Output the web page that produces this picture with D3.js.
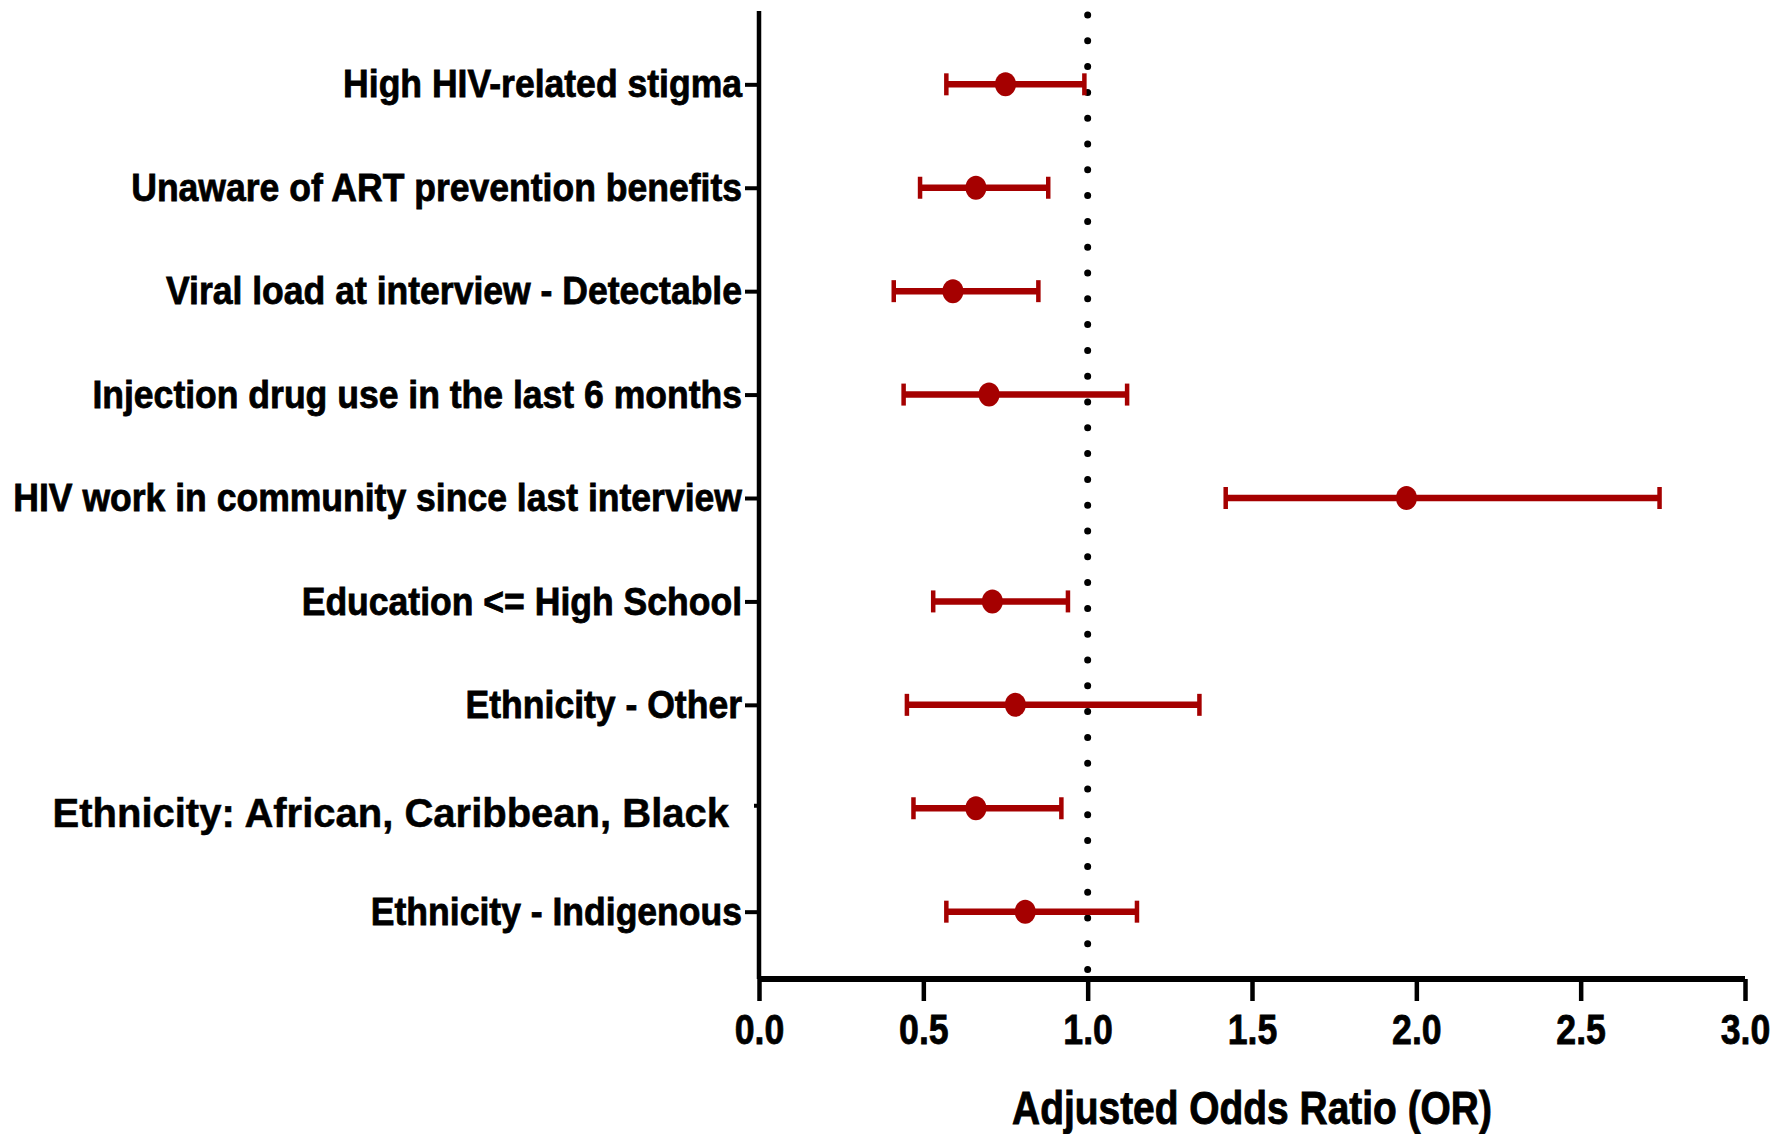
<!DOCTYPE html>
<html><head><meta charset="utf-8">
<script src="https://cdn.jsdelivr.net/npm/d3@7"></script>
<style>body{margin:0;background:#fff}</style>
</head><body>
<svg id="c" width="1773" height="1134"></svg>
<script>
const categories = [
  "High HIV-related stigma",
  "Unaware of ART prevention benefits",
  "Viral load at interview - Detectable",
  "Injection drug use in the last 6 months",
  "HIV work in community since last interview",
  "Education <= High School",
  "Ethnicity - Other",
  "Ethnicity: African, Caribbean, Black",
  "Ethnicity - Indigenous"
];
const oddsRatio = [0.75, 0.66, 0.59, 0.70, 1.97, 0.71, 0.78, 0.66, 0.81];
const lowerCI   = [0.57, 0.49, 0.41, 0.44, 1.42, 0.53, 0.45, 0.47, 0.57];
const upperCI   = [0.99, 0.88, 0.85, 1.12, 2.74, 0.94, 1.34, 0.92, 1.15];
const xTicks    = [0, 0.5, 1, 1.5, 2, 2.5, 3];
const refValue  = 1;
const xTitle = "Adjusted Odds Ratio (OR)";

const svg = d3.select("#c");
const red = "#a50000";
const font = "'Liberation Sans',Arial,Helvetica,sans-serif";

const x = d3.scaleLinear().domain([0, 3]).range([759, 1745]);
const y = d3.scalePoint().domain(categories).range([14, 982]).padding(0.68);

// reference dotted line
svg.append("line")
  .attr("x1", x(refValue)).attr("x2", x(refValue))
  .attr("y1", 15).attr("y2", 975)
  .attr("stroke", "#000").attr("stroke-width", 7)
  .attr("stroke-linecap", "round").attr("stroke-dasharray", "0 25.8");

// y axis
const labelScale = 0.90, labelGap = 17;
const yAxis = svg.append("g").attr("transform", `translate(${x(0)},0)`)
  .call(d3.axisLeft(y).tickSize(14).tickPadding(3));
yAxis.select(".domain").attr("d", `M0,11V979`).attr("stroke", "#000").attr("stroke-width", 4.5);
yAxis.selectAll(".tick line").attr("stroke", "#000").attr("stroke-width", 4);
yAxis.selectAll(".tick text")
  .attr("fill", "#000").attr("stroke", "#000").attr("stroke-width", 0.8)
  .attr("transform", `scale(${labelScale},1)`)
  .attr("x", -labelGap / labelScale)
  .style("font-family", font).style("font-weight", "700").style("font-size", "39.5px");
// special label styling for the African/Caribbean/Black row
yAxis.selectAll(".tick").filter(d => d === categories[7]).each(function() {
  const g = d3.select(this);
  g.select("line").attr("x2", -5).attr("y1", -3).attr("y2", -3);
  g.select("text").attr("transform", null).attr("x", -30).attr("dy", "0.45em")
    .attr("stroke-width", 0.5).style("font-size", "40px");
});

// x axis
const tickScale = 0.83;
const xAxis = svg.append("g").attr("transform", `translate(0,979)`)
  .call(d3.axisBottom(x).tickValues(xTicks).tickFormat(d3.format(".1f")).tickSize(22).tickPadding(12));
xAxis.select(".domain").attr("d", `M${x(0)},0H${x(3)}`).attr("stroke", "#000").attr("stroke-width", 6);
xAxis.selectAll(".tick line").attr("stroke", "#000").attr("stroke-width", 4.5);
xAxis.selectAll(".tick text").attr("fill", "#000").attr("stroke", "#000").attr("stroke-width", 0.8)
  .attr("transform", `scale(${tickScale},1)`)
  .style("font-family", font).style("font-weight", "700").style("font-size", "43px");

svg.append("text")
  .attr("transform", `translate(${(x(0) + x(3)) / 2},1124) scale(0.846,1)`)
  .attr("text-anchor", "middle")
  .attr("fill", "#000").attr("stroke", "#000").attr("stroke-width", 0.9)
  .style("font-family", font).style("font-weight", "700").style("font-size", "46px")
  .text(xTitle);

// error bars
const rows = categories.map((c, i) => ({c, or: oddsRatio[i], lo: lowerCI[i], hi: upperCI[i]}));
const eb = svg.append("g");
eb.selectAll("line.ci").data(rows).join("line")
  .attr("x1", d => x(d.lo)).attr("x2", d => x(d.hi))
  .attr("y1", d => y(d.c)).attr("y2", d => y(d.c))
  .attr("stroke", red).attr("stroke-width", 6.5);
eb.selectAll("line.capL").data(rows).join("line")
  .attr("x1", d => x(d.lo)).attr("x2", d => x(d.lo))
  .attr("y1", d => y(d.c) - 11).attr("y2", d => y(d.c) + 11)
  .attr("stroke", red).attr("stroke-width", 4.5);
eb.selectAll("line.capR").data(rows).join("line")
  .attr("x1", d => x(d.hi)).attr("x2", d => x(d.hi))
  .attr("y1", d => y(d.c) - 11).attr("y2", d => y(d.c) + 11)
  .attr("stroke", red).attr("stroke-width", 4.5);
eb.selectAll("ellipse").data(rows).join("ellipse")
  .attr("cx", d => x(d.or)).attr("cy", d => y(d.c))
  .attr("rx", 10.5).attr("ry", 12).attr("fill", red);
</script>
</body></html>
